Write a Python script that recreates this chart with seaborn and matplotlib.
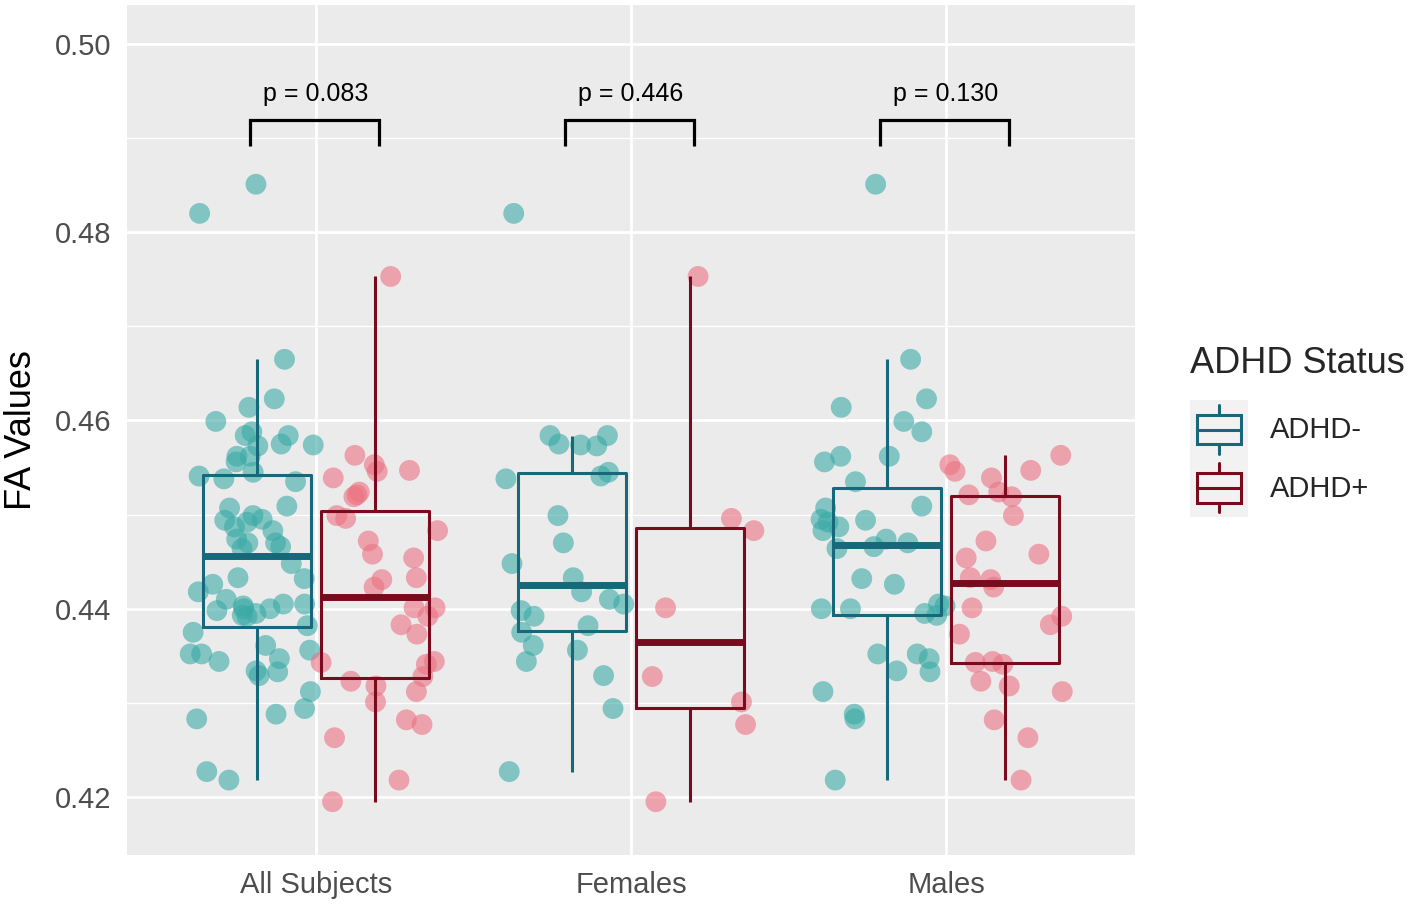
import numpy as np
import pandas as pd
import matplotlib
matplotlib.use("Agg")
import matplotlib.pyplot as plt
import seaborn as sns
from matplotlib.legend_handler import HandlerBase
from matplotlib.patches import Rectangle, Patch
from matplotlib.lines import Line2D

# FA values
females_neg = [0.4820, 0.4584, 0.4584, 0.4575, 0.4574, 0.4573, 0.4545, 0.4541, 0.4538,
               0.4499, 0.4470, 0.4448, 0.4433, 0.4418, 0.4410, 0.4405, 0.4398, 0.4392,
               0.4382, 0.4375, 0.4361, 0.4356, 0.4344, 0.4329, 0.4294, 0.4227]
females_pos = [0.4753, 0.4496, 0.4483, 0.4401, 0.4328, 0.4301, 0.4277, 0.4195]
males_neg = [0.4851, 0.4665, 0.4623, 0.4614, 0.4599, 0.4588, 0.4562, 0.4562, 0.4556,
             0.4535, 0.4509, 0.4507, 0.4495, 0.4494, 0.4492, 0.4487, 0.4483, 0.4474,
             0.4470, 0.4466, 0.4464, 0.4432, 0.4426, 0.4405, 0.4403, 0.4400, 0.4400,
             0.4395, 0.4393, 0.4352, 0.4352, 0.4347, 0.4334, 0.4333, 0.4312, 0.4288,
             0.4283, 0.4218]
males_pos = [0.4563, 0.4553, 0.4547, 0.4546, 0.4539, 0.4524, 0.4521, 0.4519, 0.4499,
             0.4472, 0.4458, 0.4454, 0.4433, 0.4431, 0.4423, 0.4401, 0.4392, 0.4383,
             0.4373, 0.4344, 0.4343, 0.4341, 0.4323, 0.4318, 0.4312, 0.4282, 0.4263,
             0.4218]

groups = ["All Subjects", "Females", "Males"]
statuses = ["ADHD-", "ADHD+"]
p_labels = ["p = 0.083", "p = 0.446", "p = 0.130"]

box_colors = {"ADHD-": "#17687A", "ADHD+": "#7A0A1E"}
point_colors = {"ADHD-": "#3AAAA6", "ADHD+": "#EB7282"}

# long table: all subjects = females + males
rows = []
for grp, neg, pos in [("All Subjects", females_neg + males_neg, females_pos + males_pos),
                      ("Females", females_neg, females_pos),
                      ("Males", males_neg, males_pos)]:
    rows += [(grp, "ADHD-", v) for v in neg]
    rows += [(grp, "ADHD+", v) for v in pos]
df = pd.DataFrame(rows, columns=["group", "status", "fa"])

sns.set_theme(style="darkgrid")
plt.rcParams["font.family"] = ["Liberation Sans", "DejaVu Sans"]

fig = plt.figure(figsize=(14.17, 9.06), dpi=100)
ax = fig.add_axes([127 / 1417, 51 / 906, (1135 - 127) / 1417, (855 - 5) / 906])
ax.set_facecolor("#EBEBEB")

np.random.seed(7)
sns.stripplot(data=df, x="group", y="fa", hue="status", order=groups, hue_order=statuses,
              palette=point_colors, dodge=True, jitter=0.4, size=15, alpha=0.6,
              linewidth=0, legend=False, ax=ax, zorder=2)
sns.boxplot(data=df, x="group", y="fa", hue="status", order=groups, hue_order=statuses,
            palette=box_colors, fill=False, width=0.75, gap=0.09, showfliers=False,
            showcaps=False, linewidth=2.2, medianprops={"linewidth": 5},
            legend=False, ax=ax)
for ln in ax.lines:
    ln.set_zorder(3)
for pt in ax.patches:
    pt.set_zorder(3)

# significance brackets
y_top, y_leg = 0.49193, 0.48916
for i, lab in enumerate(p_labels):
    ax.plot([i - 0.21, i - 0.21, i + 0.2, i + 0.2], [y_leg, y_top, y_top, y_leg],
            color="black", lw=2.3, solid_capstyle="butt", solid_joinstyle="miter", zorder=4)
    ax.text(i, 0.4939, lab, ha="center", va="baseline", fontsize=18, color="black")

ax.set_xlim(-0.6, 2.6)
ax.set_ylim(0.41384, 0.50414)
ax.set_yticks([0.42, 0.44, 0.46, 0.48, 0.50])
ax.set_yticklabels([f"{t:.2f}" for t in [0.42, 0.44, 0.46, 0.48, 0.50]])
ax.set_yticks([0.43, 0.45, 0.47, 0.49], minor=True)
ax.grid(True, which="major", color="white", linewidth=2.0)
ax.grid(True, which="minor", axis="y", color="white", linewidth=1.0)
ax.set_axisbelow(True)
for s in ax.spines.values():
    s.set_visible(False)
ax.tick_params(axis="both", which="major", length=6.5, width=2, color="#333333",
               labelsize=21, labelcolor="#4D4D4D", pad=5)
ax.tick_params(axis="y", which="minor", length=0)
ax.tick_params(axis="x", which="minor", bottom=False)
ax.set_xlabel("")
ax.set_ylabel("")
fig.text(22 / 1417, 1 - 430 / 906, "FA Values", rotation=90, ha="center", va="center",
         fontsize=26, color="black")


class BoxKey(HandlerBase):
    def create_artists(self, legend, orig_handle, xdescent, ydescent, width, height,
                       fontsize, trans):
        col = orig_handle.get_edgecolor()
        x0, y0 = -xdescent, -ydescent
        bg = Rectangle((x0, y0), width, height, facecolor="#F2F2F2", edgecolor="none",
                       transform=trans)
        bx = Rectangle((x0 + 0.12 * width, y0 + 0.25 * height), 0.76 * width, 0.5 * height,
                       facecolor="none", edgecolor=col, lw=2.2, transform=trans)
        med = Line2D([x0 + 0.12 * width, x0 + 0.88 * width], [y0 + 0.5 * height] * 2,
                     color=col, lw=2.2, transform=trans)
        xc = x0 + 0.5 * width
        w1 = Line2D([xc, xc], [y0 + 0.08 * height, y0 + 0.25 * height], color=col, lw=2.2,
                    transform=trans)
        w2 = Line2D([xc, xc], [y0 + 0.75 * height, y0 + 0.92 * height], color=col, lw=2.2,
                    transform=trans)
        return [bg, bx, med, w1, w2]


handles = [Patch(edgecolor=box_colors[s], facecolor="none") for s in statuses]
leg = fig.legend(handles, statuses, handler_map={Patch: BoxKey()}, title="ADHD Status",
                 loc="upper left", bbox_to_anchor=(1190 / 1417, 1 - 346 / 906),
                 frameon=False, fontsize=21, title_fontsize=26, handlelength=2.0,
                 handleheight=2.7, labelspacing=0.0, handletextpad=0.75, borderpad=0,
                 borderaxespad=0, alignment="left")
leg._legend_box.sep = 14

fig.savefig("out.png", dpi=100)
